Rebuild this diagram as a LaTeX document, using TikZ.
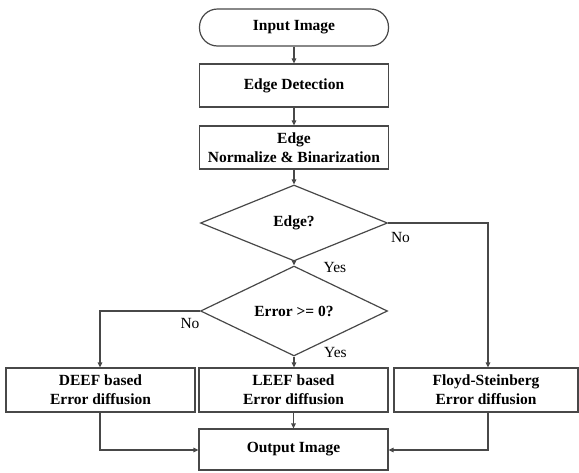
\documentclass[tikz,border=0pt]{standalone}
\usepackage{fontspec}
\setmainfont{Liberation Serif}
\usetikzlibrary{shapes.geometric,arrows.meta}
\definecolor{linec}{HTML}{484848}
\tikzset{
  every node/.style={font=\fontsize{15.5pt}{19pt}\selectfont, text=black},
  proc/.style={draw=linec, line width=1.2pt, rectangle, minimum width=189pt, inner sep=0pt, align=center, font=\fontsize{15.5pt}{19pt}\selectfont\bfseries},
  term/.style={proc, rounded corners=18pt},
  decide/.style={draw=linec, line width=1.2pt, diamond, minimum width=187pt, minimum height=76pt, inner sep=0pt, font=\fontsize{15.5pt}{19pt}\selectfont\bfseries},
  conn/.style={draw=linec, line width=1.2pt, -{Triangle[length=5pt,width=4.5pt]}},
  lbl/.style={inner sep=0pt, font=\fontsize{15.5pt}{19pt}\selectfont}
}
\begin{document}
\begin{tikzpicture}[x=1pt,y=-1pt]
\useasboundingbox (0,0) rectangle (579,472);
\node[term, minimum height=37pt] (in) at (294,27.5) {Input Image};
\node[proc, minimum height=43pt] (ed) at (294,85.5) {Edge Detection};
\node[proc, minimum height=43pt] (nb) at (294,147.5) {Edge\\Normalize \& Binarization};
\node[decide] (d1) at (294,223) {Edge?};
\node[decide] (d2) at (294,311) {Error >= 0?};
\node[proc, minimum height=44pt] (deef) at (100.5,390) {DEEF based\\Error diffusion};
\node[proc, minimum height=44pt] (leef) at (293.5,390) {LEEF based\\Error diffusion};
\node[proc, minimum height=44pt, minimum width=184pt] (fs) at (486,390) {Floyd-Steinberg\\Error diffusion};
\node[proc, minimum height=41pt] (out) at (293.5,449.5) {Output Image};
\coordinate (cr) at (488,223);
\coordinate (cl) at (100,311);
\coordinate (bl) at (100,450);
\coordinate (br) at (488,450);
\draw[conn] (in) -- (ed);
\draw[conn] (ed) -- (nb);
\draw[conn] (nb) -- (d1);
\draw[conn] (d1) -- (d2);
\draw[conn] (d1.east) -- (cr) -- (cr |- fs.north);
\draw[conn] (d2.west) -- (cl) -- (cl |- deef.north);
\draw[conn] (d2.south) -- (d2.south |- leef.north);
\draw[conn] (leef.south) -- (leef.south |- out.north);
\draw[conn] (deef.south -| bl) -- (bl) -- (bl -| out.west);
\draw[conn] (fs.south -| br) -- (br) -- (br -| out.east);
\node[lbl] (no1) at (400.5,237) {No};
\node[lbl] (yes1) at (335,267) {Yes};
\node[lbl] (no2) at (190,323) {No};
\node[lbl] (yes2) at (335.5,352) {Yes};
\end{tikzpicture}
\end{document}
